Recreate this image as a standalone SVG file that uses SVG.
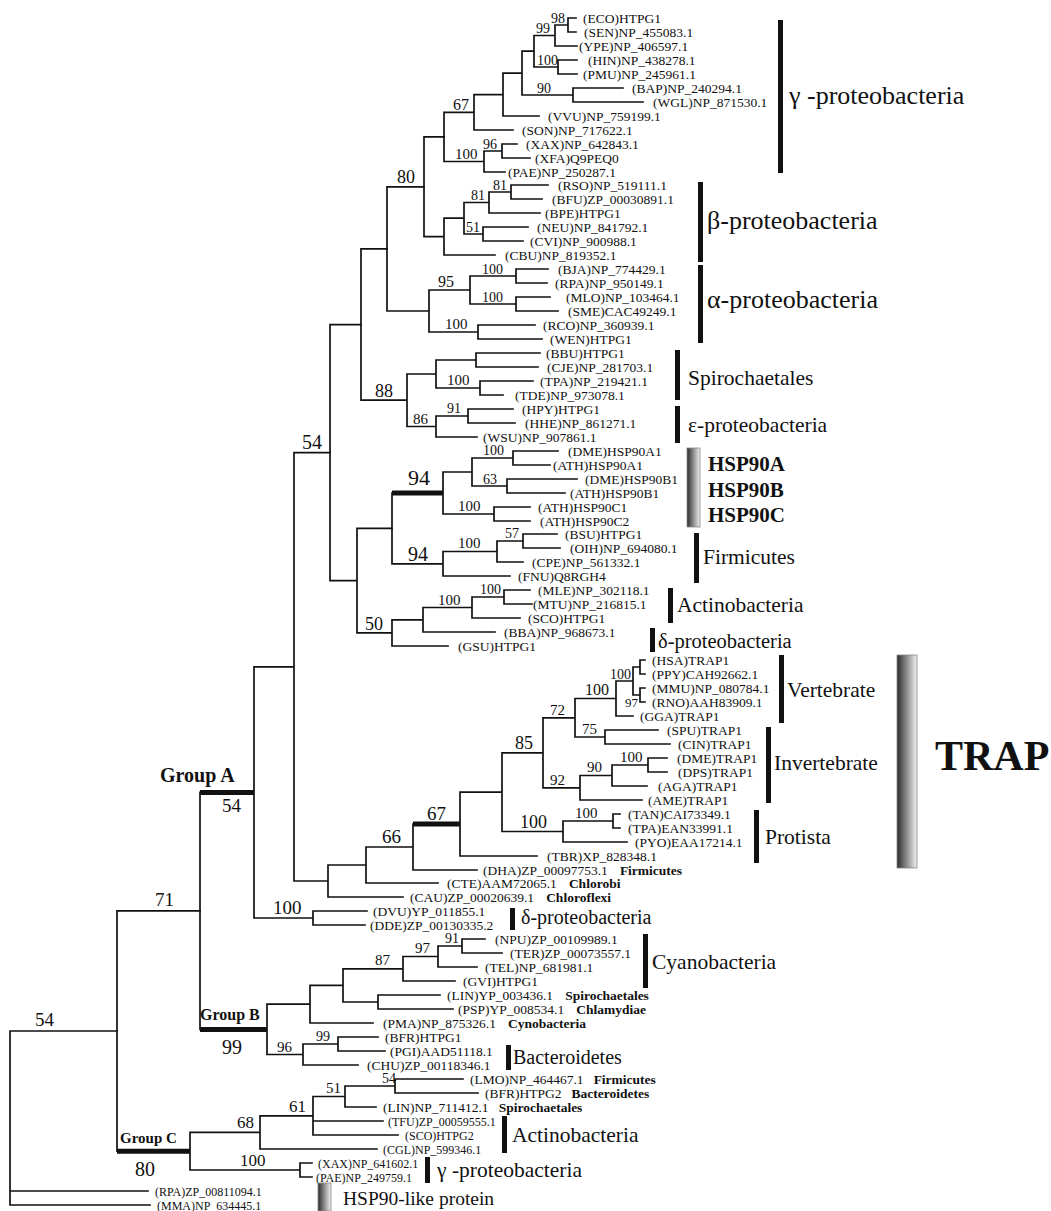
<svg xmlns="http://www.w3.org/2000/svg" width="1051" height="1211" viewBox="0 0 1051 1211">
<defs>
<linearGradient id="gbar" x1="0" y1="0" x2="1" y2="0">
<stop offset="0" stop-color="#2a2a2a"/>
<stop offset="1" stop-color="#f2f2f2"/>
</linearGradient>
<style>
text{font-family:"Liberation Serif","Times New Roman",serif;fill:#111}
.lf{font-size:13.5px}
.sm{font-size:12px}
.bd{font-weight:bold;font-size:13.5px}
.bs{font-size:14px}
.grp{font-size:21.5px}
.big{font-size:26px}
.hb{font-weight:bold;font-size:21px}
.br{fill:none;stroke:#111;stroke-width:1.7;stroke-linecap:square}
.tk{fill:none;stroke:#111;stroke-width:5}
.bar{fill:#111}
.gb{fill:url(#gbar);stroke:#888;stroke-width:0.8}
</style>
</defs>
<rect width="1051" height="1211" fill="#fff"/>
<g id="connectors">
<path class="br" d="M576 18H568V32H576 M568 25H555V46H577 M577 60H558V74H577 M555 35.5H534V67H558 M623 88H573V102H643 M534 51.2H522V95H573 M522 73.1H503V116H539 M503 94.6H474V130H513 M517 144H502V158H530 M502 151H484V172H505 M474 112.3H444V161.5H484"/>
<path class="br" d="M548 185H511V199H542 M511 192H489V213H540 M528 227H483V241H523 M489 202.5H464V234H483 M464 218.2H444V255H495 M444 136.9H424V236.6H444"/>
<path class="br" d="M548 269H516V283H547 M550 297H516V311H558 M516 276H470V304H516 M535 325H478V339H542 M470 290H429V332H478 M424 186.8H387V311H429"/>
<path class="br" d="M540 353H476V367H538 M533 381H480V395H503 M476 360H436V388H480 M513 409H468V423H515 M468 416H436V437H477 M436 374H407V426.5H436 M387 248.9H361V400.2H407"/>
<path class="br" d="M558 451H513V465H550 M577 479H507V493H565 M513 458H472V486H507 M530 507H494V521H530 M472 472H443V514H494 M557 534H523V548H560 M523 541H497V562H523 M497 551.5H443V576H510 M392 493V563.8H443"/>
<path class="br" d="M530 590H504V604H532 M504 597H472V618H520 M472 607.5H423V632H495 M423 619.8H392V646H448 M392 528.4H357V632.9H392 M361 324.6H330V580.6H357"/>
<path class="br" d="M645 660H640V674H645 M645 688H640V702H645 M640 667H633V695H640 M633 681H616V716H633 M658 730H605V744H670 M616 698.5H575V737H605 M667 758H648V772H667 M648 765H612V786H647 M612 775.5H580V800H642 M575 717.8H543V787.8H580 M620 814H613V828H620 M613 821H563V842H627 M543 752.8H502V831.5H563 M502 792.1H460V856H537"/>
<path class="br" d="M413 824V870H477 M413 847H366V883H438 M366 865H328V897H403 M330 452.6H294V881H328 M367 911H313V925H365 M294 666.8H254V918H313"/>
<path class="br" d="M485 939H462V953H502 M462 946H438V967H477 M438 956.5H403V981H455 M440 995H378V1009H453 M403 968.8H343V1002H378 M343 985.4H310V1023H373 M378 1037H338V1051H385 M338 1044H303V1065H358 M310 1004.2H267V1054.5H303 M200 792.4V1029.4"/>
<path class="br" d="M463 1079H395V1093H478 M395 1086H345V1107H376 M345 1096.5H313V1135H398 M313 1121H383 M313 1115.8H260V1149H377 M312 1163H300V1177H312 M260 1132.4H190V1170H300 M200 910.9H117V1151.2"/>
<path class="br" d="M117 1031H10V1205H150 M10 1191H148"/>
<path class="tk" d="M392 493H443 M413 824H460 M200 792.4H254 M200 1029.4H267 M117 1151.2H190"/>
</g>
<g id="leaves">
<g id="L01"><text class="lf" x="583" y="23">(ECO)HTPG1</text></g>
<g id="L02"><text class="lf" x="584" y="37">(SEN)NP_455083.1</text></g>
<g id="L03"><text class="lf" x="579" y="51">(YPE)NP_406597.1</text></g>
<g id="L04"><text class="lf" x="588" y="65">(HIN)NP_438278.1</text></g>
<g id="L05"><text class="lf" x="583" y="79">(PMU)NP_245961.1</text></g>
<g id="L06"><text class="lf" x="632" y="93">(BAP)NP_240294.1</text></g>
<g id="L07"><text class="lf" x="653" y="107">(WGL)NP_871530.1</text></g>
<g id="L08"><text class="lf" x="548" y="121">(VVU)NP_759199.1</text></g>
<g id="L09"><text class="lf" x="522" y="135">(SON)NP_717622.1</text></g>
<g id="L10"><text class="lf" x="526" y="149">(XAX)NP_642843.1</text></g>
<g id="L11"><text class="lf" x="535" y="163">(XFA)Q9PEQ0</text></g>
<g id="L12"><text class="lf" x="508" y="177">(PAE)NP_250287.1</text></g>
<g id="L13"><text class="lf" x="558" y="190">(RSO)NP_519111.1</text></g>
<g id="L14"><text class="lf" x="552" y="204">(BFU)ZP_00030891.1</text></g>
<g id="L15"><text class="lf" x="545" y="218">(BPE)HTPG1</text></g>
<g id="L16"><text class="lf" x="537" y="232">(NEU)NP_841792.1</text></g>
<g id="L17"><text class="lf" x="530" y="246">(CVI)NP_900988.1</text></g>
<g id="L18"><text class="lf" x="505" y="260">(CBU)NP_819352.1</text></g>
<g id="L19"><text class="lf" x="558" y="274">(BJA)NP_774429.1</text></g>
<g id="L20"><text class="lf" x="555" y="288">(RPA)NP_950149.1</text></g>
<g id="L21"><text class="lf" x="566" y="302">(MLO)NP_103464.1</text></g>
<g id="L22"><text class="lf" x="568" y="316">(SME)CAC49249.1</text></g>
<g id="L23"><text class="lf" x="543" y="330">(RCO)NP_360939.1</text></g>
<g id="L24"><text class="lf" x="550" y="344">(WEN)HTPG1</text></g>
<g id="L25"><text class="lf" x="546" y="358">(BBU)HTPG1</text></g>
<g id="L26"><text class="lf" x="547" y="372">(CJE)NP_281703.1</text></g>
<g id="L27"><text class="lf" x="540" y="386">(TPA)NP_219421.1</text></g>
<g id="L28"><text class="lf" x="515" y="400">(TDE)NP_973078.1</text></g>
<g id="L29"><text class="lf" x="522" y="414">(HPY)HTPG1</text></g>
<g id="L30"><text class="lf" x="525" y="428">(HHE)NP_861271.1</text></g>
<g id="L31"><text class="lf" x="483" y="442">(WSU)NP_907861.1</text></g>
<g id="L32"><text class="lf" x="568" y="456">(DME)HSP90A1</text></g>
<g id="L33"><text class="lf" x="553" y="470">(ATH)HSP90A1</text></g>
<g id="L34"><text class="lf" x="585" y="484">(DME)HSP90B1</text></g>
<g id="L35"><text class="lf" x="570" y="498">(ATH)HSP90B1</text></g>
<g id="L36"><text class="lf" x="538" y="512">(ATH)HSP90C1</text></g>
<g id="L37"><text class="lf" x="540" y="526">(ATH)HSP90C2</text></g>
<g id="L38"><text class="lf" x="565" y="539">(BSU)HTPG1</text></g>
<g id="L39"><text class="lf" x="570" y="553">(OIH)NP_694080.1</text></g>
<g id="L40"><text class="lf" x="532" y="567">(CPE)NP_561332.1</text></g>
<g id="L41"><text class="lf" x="518" y="581">(FNU)Q8RGH4</text></g>
<g id="L42"><text class="lf" x="538" y="595">(MLE)NP_302118.1</text></g>
<g id="L43"><text class="lf" x="533" y="609">(MTU)NP_216815.1</text></g>
<g id="L44"><text class="lf" x="528" y="623">(SCO)HTPG1</text></g>
<g id="L45"><text class="lf" x="504" y="637">(BBA)NP_968673.1</text></g>
<g id="L46"><text class="lf" x="458" y="651">(GSU)HTPG1</text></g>
<g id="L47"><text class="lf" x="652" y="665">(HSA)TRAP1</text></g>
<g id="L48"><text class="lf" x="652" y="679">(PPY)CAH92662.1</text></g>
<g id="L49"><text class="lf" x="652" y="693">(MMU)NP_080784.1</text></g>
<g id="L50"><text class="lf" x="652" y="707">(RNO)AAH83909.1</text></g>
<g id="L51"><text class="lf" x="640" y="721">(GGA)TRAP1</text></g>
<g id="L52"><text class="lf" x="667" y="735">(SPU)TRAP1</text></g>
<g id="L53"><text class="lf" x="678" y="749">(CIN)TRAP1</text></g>
<g id="L54"><text class="lf" x="677" y="763">(DME)TRAP1</text></g>
<g id="L55"><text class="lf" x="678" y="777">(DPS)TRAP1</text></g>
<g id="L56"><text class="lf" x="658" y="791">(AGA)TRAP1</text></g>
<g id="L57"><text class="lf" x="648" y="805">(AME)TRAP1</text></g>
<g id="L58"><text class="lf" x="628" y="819">(TAN)CAI73349.1</text></g>
<g id="L59"><text class="lf" x="628" y="833">(TPA)EAN33991.1</text></g>
<g id="L60"><text class="lf" x="635" y="847">(PYO)EAA17214.1</text></g>
<g id="L61"><text class="lf" x="547" y="861">(TBR)XP_828348.1</text></g>
<g id="L62"><text class="lf" x="483" y="875">(DHA)ZP_00097753.1<tspan class="bd" dx="12">Firmicutes</tspan></text></g>
<g id="L63"><text class="lf" x="447" y="888">(CTE)AAM72065.1<tspan class="bd" dx="12">Chlorobi</tspan></text></g>
<g id="L64"><text class="lf" x="410" y="902">(CAU)ZP_00020639.1<tspan class="bd" dx="12">Chloroflexi</tspan></text></g>
<g id="L65"><text class="lf" x="373" y="916">(DVU)YP_011855.1</text></g>
<g id="L66"><text class="lf" x="370" y="930">(DDE)ZP_00130335.2</text></g>
<g id="L67"><text class="lf" x="495" y="944">(NPU)ZP_00109989.1</text></g>
<g id="L68"><text class="lf" x="510" y="958">(TER)ZP_00073557.1</text></g>
<g id="L69"><text class="lf" x="485" y="972">(TEL)NP_681981.1</text></g>
<g id="L70"><text class="lf" x="463" y="986">(GVI)HTPG1</text></g>
<g id="L71"><text class="lf" x="447" y="1000">(LIN)YP_003436.1<tspan class="bd" dx="12">Spirochaetales</tspan></text></g>
<g id="L72"><text class="lf" x="458" y="1014">(PSP)YP_008534.1<tspan class="bd" dx="12">Chlamydiae</tspan></text></g>
<g id="L73"><text class="lf" x="383" y="1028">(PMA)NP_875326.1<tspan class="bd" dx="12">Cynobacteria</tspan></text></g>
<g id="L74"><text class="lf" x="385" y="1042">(BFR)HTPG1</text></g>
<g id="L75"><text class="lf" x="390" y="1056">(PGI)AAD51118.1</text></g>
<g id="L76"><text class="lf" x="367" y="1070">(CHU)ZP_00118346.1</text></g>
<g id="L77"><text class="lf" x="470" y="1084">(LMO)NP_464467.1<tspan class="bd" dx="10">Firmicutes</tspan></text></g>
<g id="L78"><text class="lf" x="485" y="1098">(BFR)HTPG2<tspan class="bd" dx="10">Bacteroidetes</tspan></text></g>
<g id="L79"><text class="lf" x="383" y="1112">(LIN)NP_711412.1<tspan class="bd" dx="10">Spirochaetales</tspan></text></g>
<g id="L80"><text class="sm" x="388" y="1125.5">(TFU)ZP_00059555.1</text></g>
<g id="L81"><text class="sm" x="405" y="1139.5">(SCO)HTPG2</text></g>
<g id="L82"><text class="sm" x="383" y="1153.5">(CGL)NP_599346.1</text></g>
<g id="L83"><text class="sm" x="318" y="1167.5">(XAX)NP_641602.1</text></g>
<g id="L84"><text class="sm" x="316" y="1181.5">(PAE)NP_249759.1</text></g>
<g id="L85"><text class="sm" x="155" y="1195.5">(RPA)ZP_00811094.1</text></g>
<g id="L86"><text class="sm" x="157" y="1209.5">(MMA)NP_634445.1</text></g>
</g>
<g id="bootstrap">
<text class="bs" x="551" y="23">98</text>
<text class="bs" x="536" y="33">99</text>
<text class="bs" x="537" y="65">100</text>
<text class="bs" x="537" y="93">90</text>
<text x="453" y="110" font-size="16">67</text>
<text class="bs" x="483" y="149">96</text>
<text x="455" y="159" font-size="15">100</text>
<text x="397" y="183" font-size="18">80</text>
<text class="bs" x="493" y="190">81</text>
<text class="bs" x="471" y="200">81</text>
<text class="bs" x="466" y="232">51</text>
<text class="bs" x="482" y="274">100</text>
<text x="438" y="287" font-size="16">95</text>
<text class="bs" x="482" y="302">100</text>
<text x="445" y="329" font-size="15">100</text>
<text x="447" y="385" font-size="15">100</text>
<text x="375" y="397" font-size="18">88</text>
<text class="bs" x="447" y="413">91</text>
<text x="413" y="424" font-size="15">86</text>
<text x="302" y="449" font-size="20">54</text>
<text class="bs" x="483" y="455">100</text>
<text x="408" y="485" font-size="22">94</text>
<text class="bs" x="483" y="484">63</text>
<text x="458" y="511" font-size="15">100</text>
<text class="bs" x="505" y="538">57</text>
<text x="458" y="548" font-size="15">100</text>
<text x="408" y="561" font-size="20">94</text>
<text class="bs" x="480" y="594">100</text>
<text x="438" y="605" font-size="15">100</text>
<text x="365" y="630" font-size="18">50</text>
<text class="bs" x="610" y="679">100</text>
<text x="625" y="707" font-size="13">97</text>
<text x="585" y="695" font-size="16">100</text>
<text x="550" y="715" font-size="15">72</text>
<text x="582" y="734" font-size="15">75</text>
<text x="515" y="749" font-size="18">85</text>
<text x="620" y="762" font-size="15">100</text>
<text x="587" y="772" font-size="15">90</text>
<text x="550" y="785" font-size="15">92</text>
<text x="575" y="818" font-size="15">100</text>
<text x="520" y="828" font-size="18">100</text>
<text x="427" y="820" font-size="19">67</text>
<text x="382" y="843" font-size="19">66</text>
<text x="273" y="914" font-size="19">100</text>
<text x="222" y="812" font-size="19">54</text>
<text x="155" y="906" font-size="19">71</text>
<text class="bs" x="445" y="943">91</text>
<text x="415" y="953" font-size="15">97</text>
<text x="375" y="965" font-size="15">87</text>
<text x="222" y="1054" font-size="20">99</text>
<text class="bs" x="316" y="1041">99</text>
<text x="277" y="1052" font-size="15">96</text>
<text class="bs" x="382" y="1083">54</text>
<text x="326" y="1093" font-size="15">51</text>
<text x="289" y="1112" font-size="17">61</text>
<text x="237" y="1128" font-size="17">68</text>
<text x="240" y="1166" font-size="17">100</text>
<text x="135" y="1176" font-size="20">80</text>
<text x="35" y="1026" font-size="19">54</text>
</g>
<g id="group-labels">
<text x="160" y="782" font-size="20" font-weight="bold">Group A</text>
<text x="200" y="1020" font-size="16" font-weight="bold">Group B</text>
<text x="120" y="1143" font-size="15" font-weight="bold">Group C</text>
</g>
<g id="clade-gamma"><rect class="bar" x="778" y="20" width="5" height="153"/><text class="big" x="789" y="104">γ -proteobacteria</text></g>
<g id="clade-beta"><rect class="bar" x="698" y="182" width="5" height="80"/><text class="big" x="707" y="229">β-proteobacteria</text></g>
<g id="clade-alpha"><rect class="bar" x="698" y="265" width="5" height="78"/><text class="big" x="707" y="308">α-proteobacteria</text></g>
<g id="clade-spiro"><rect class="bar" x="675" y="350" width="5" height="50"/><text class="grp" x="688" y="385">Spirochaetales</text></g>
<g id="clade-epsilon"><rect class="bar" x="675" y="406" width="5" height="37"/><text class="grp" x="688" y="432">ε-proteobacteria</text></g>
<g id="clade-hsp90"><rect class="gb" x="687" y="448" width="13" height="79"/><text class="hb" x="708" y="471">HSP90A</text><text class="hb" x="708" y="497">HSP90B</text><text class="hb" x="708" y="522">HSP90C</text></g>
<g id="clade-firmicutes"><rect class="bar" x="694" y="533" width="5" height="50"/><text class="grp" x="703" y="564">Firmicutes</text></g>
<g id="clade-actino1"><rect class="bar" x="668" y="588" width="5" height="35"/><text class="grp" x="677" y="612">Actinobacteria</text></g>
<g id="clade-delta1"><rect class="bar" x="650" y="628" width="5" height="24"/><text x="658" y="648" font-size="20.5">δ-proteobacteria</text></g>
<g id="clade-vertebrate"><rect class="bar" x="779" y="655" width="5" height="68"/><text class="grp" x="787" y="697">Vertebrate</text></g>
<g id="clade-invertebrate"><rect class="bar" x="766" y="727" width="5" height="76"/><text class="grp" x="774" y="770">Invertebrate</text></g>
<g id="clade-protista"><rect class="bar" x="754" y="810" width="5" height="53"/><text class="grp" x="765" y="844">Protista</text></g>
<g id="clade-trap"><rect class="gb" x="897" y="655" width="20" height="213"/><text x="935" y="770" font-size="42" font-weight="bold">TRAP</text></g>
<g id="clade-delta2"><rect class="bar" x="510" y="908" width="5" height="22"/><text x="521" y="924" font-size="20">δ-proteobacteria</text></g>
<g id="clade-cyano"><rect class="bar" x="643" y="934" width="5" height="54"/><text class="grp" x="652" y="969">Cyanobacteria</text></g>
<g id="clade-bacteroidetes"><rect class="bar" x="506" y="1045" width="5" height="25"/><text x="513" y="1064" font-size="20">Bacteroidetes</text></g>
<g id="clade-actino2"><rect class="bar" x="502" y="1116" width="5" height="37"/><text class="grp" x="512" y="1142">Actinobacteria</text></g>
<g id="clade-gamma2"><rect class="bar" x="425" y="1157" width="5" height="26"/><text class="grp" x="437" y="1177">γ -proteobacteria</text></g>
<g id="clade-hsp90like"><rect class="gb" x="318" y="1183" width="13" height="28"/><text x="343" y="1205" font-size="19.5">HSP90-like protein</text></g>
</svg>
